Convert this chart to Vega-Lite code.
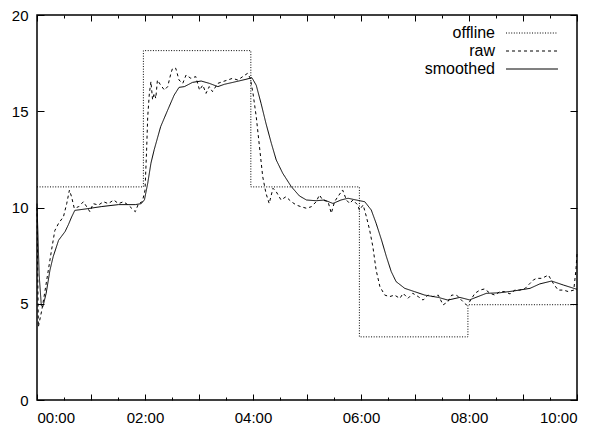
{
  "$schema": "https://vega.github.io/schema/vega-lite/v6.json",
  "width": 540,
  "height": 385,
  "autosize": {"type": "none"},
  "padding": {"left": 37, "top": 15, "right": 23, "bottom": 25},
  "background": "white",
  "config": {
    "view": {"stroke": "black", "strokeWidth": 1.5},
    "axis": {"grid": false, "domain": false, "labelFont": "Liberation Sans", "labelFontSize": 15, "labelColor": "black", "tickColor": "black", "tickWidth": 1, "title": null},
    "legend": {"labelFont": "Liberation Sans", "labelFontSize": 16, "labelColor": "black"}
  },
  "datasets": {
    "offline": [
      {"s": "offline", "t": 0, "v": 11.07},
      {"s": "offline", "t": 1.97, "v": 18.15},
      {"s": "offline", "t": 3.96, "v": 11.07},
      {"s": "offline", "t": 5.97, "v": 3.28},
      {"s": "offline", "t": 7.98, "v": 4.95},
      {"s": "offline", "t": 10, "v": 4.95}
    ],
    "raw": [
      {"s":"raw","t":0,"v":10.0},{"s":"raw","t":0.025,"v":3.8},{"s":"raw","t":0.09,"v":4.68},{"s":"raw","t":0.15,"v":5.7},{"s":"raw","t":0.21,"v":6.75},{"s":"raw","t":0.27,"v":7.8},{"s":"raw","t":0.33,"v":8.8},{"s":"raw","t":0.40,"v":9.18},{"s":"raw","t":0.49,"v":9.52},{"s":"raw","t":0.55,"v":10.2},{"s":"raw","t":0.60,"v":10.9},{"s":"raw","t":0.64,"v":10.56},{"s":"raw","t":0.69,"v":9.96},{"s":"raw","t":0.77,"v":10.04},{"s":"raw","t":0.86,"v":10.3},{"s":"raw","t":0.92,"v":10.04},{"s":"raw","t":0.98,"v":9.78},{"s":"raw","t":1.04,"v":10.2},{"s":"raw","t":1.14,"v":10.13},{"s":"raw","t":1.23,"v":10.3},{"s":"raw","t":1.32,"v":10.2},{"s":"raw","t":1.42,"v":10.39},{"s":"raw","t":1.51,"v":10.2},{"s":"raw","t":1.60,"v":10.3},{"s":"raw","t":1.69,"v":10.13},{"s":"raw","t":1.82,"v":9.78},{"s":"raw","t":1.88,"v":10.2},{"s":"raw","t":1.95,"v":10.3},{"s":"raw","t":2.0,"v":10.9},{"s":"raw","t":2.03,"v":12.99},{"s":"raw","t":2.05,"v":14.7},{"s":"raw","t":2.08,"v":15.9},{"s":"raw","t":2.11,"v":16.54},{"s":"raw","t":2.14,"v":15.6},{"s":"raw","t":2.17,"v":15.93},{"s":"raw","t":2.20,"v":15.67},{"s":"raw","t":2.23,"v":16.62},{"s":"raw","t":2.29,"v":16.36},{"s":"raw","t":2.36,"v":16.1},{"s":"raw","t":2.42,"v":16.28},{"s":"raw","t":2.48,"v":16.97},{"s":"raw","t":2.51,"v":17.23},{"s":"raw","t":2.57,"v":17.23},{"s":"raw","t":2.63,"v":16.62},{"s":"raw","t":2.70,"v":16.45},{"s":"raw","t":2.76,"v":16.88},{"s":"raw","t":2.85,"v":16.71},{"s":"raw","t":2.94,"v":16.8},{"s":"raw","t":3.01,"v":16.1},{"s":"raw","t":3.07,"v":16.36},{"s":"raw","t":3.13,"v":15.93},{"s":"raw","t":3.19,"v":16.28},{"s":"raw","t":3.25,"v":16.02},{"s":"raw","t":3.35,"v":16.45},{"s":"raw","t":3.44,"v":16.54},{"s":"raw","t":3.53,"v":16.62},{"s":"raw","t":3.62,"v":16.71},{"s":"raw","t":3.72,"v":16.62},{"s":"raw","t":3.81,"v":16.8},{"s":"raw","t":3.90,"v":16.97},{"s":"raw","t":3.95,"v":16.71},{"s":"raw","t":4.0,"v":15.93},{"s":"raw","t":4.06,"v":14.72},{"s":"raw","t":4.12,"v":13.16},{"s":"raw","t":4.18,"v":11.6},{"s":"raw","t":4.24,"v":10.74},{"s":"raw","t":4.30,"v":10.21},{"s":"raw","t":4.37,"v":11.0},{"s":"raw","t":4.43,"v":10.82},{"s":"raw","t":4.52,"v":10.39},{"s":"raw","t":4.61,"v":10.56},{"s":"raw","t":4.71,"v":10.3},{"s":"raw","t":4.80,"v":10.13},{"s":"raw","t":4.89,"v":10.04},{"s":"raw","t":4.99,"v":9.96},{"s":"raw","t":5.08,"v":10.04},{"s":"raw","t":5.17,"v":10.3},{"s":"raw","t":5.23,"v":10.65},{"s":"raw","t":5.29,"v":10.39},{"s":"raw","t":5.39,"v":10.3},{"s":"raw","t":5.45,"v":9.7},{"s":"raw","t":5.51,"v":10.3},{"s":"raw","t":5.57,"v":10.56},{"s":"raw","t":5.66,"v":10.91},{"s":"raw","t":5.73,"v":10.39},{"s":"raw","t":5.79,"v":10.21},{"s":"raw","t":5.85,"v":10.39},{"s":"raw","t":5.94,"v":10.13},{"s":"raw","t":5.97,"v":9.87},{"s":"raw","t":6.04,"v":10.13},{"s":"raw","t":6.10,"v":9.52},{"s":"raw","t":6.16,"v":8.83},{"s":"raw","t":6.22,"v":7.96},{"s":"raw","t":6.28,"v":6.75},{"s":"raw","t":6.35,"v":5.89},{"s":"raw","t":6.44,"v":5.45},{"s":"raw","t":6.53,"v":5.37},{"s":"raw","t":6.62,"v":5.45},{"s":"raw","t":6.72,"v":5.28},{"s":"raw","t":6.78,"v":5.54},{"s":"raw","t":6.87,"v":5.28},{"s":"raw","t":6.96,"v":5.54},{"s":"raw","t":7.06,"v":5.37},{"s":"raw","t":7.15,"v":5.19},{"s":"raw","t":7.24,"v":5.45},{"s":"raw","t":7.33,"v":5.37},{"s":"raw","t":7.43,"v":5.45},{"s":"raw","t":7.52,"v":4.94},{"s":"raw","t":7.61,"v":5.11},{"s":"raw","t":7.68,"v":5.45},{"s":"raw","t":7.77,"v":5.45},{"s":"raw","t":7.86,"v":5.19},{"s":"raw","t":7.95,"v":4.94},{"s":"raw","t":8.01,"v":5.1},{"s":"raw","t":8.05,"v":5.28},{"s":"raw","t":8.11,"v":5.54},{"s":"raw","t":8.20,"v":5.71},{"s":"raw","t":8.29,"v":5.77},{"s":"raw","t":8.39,"v":5.54},{"s":"raw","t":8.48,"v":5.45},{"s":"raw","t":8.57,"v":5.63},{"s":"raw","t":8.66,"v":5.63},{"s":"raw","t":8.76,"v":5.51},{"s":"raw","t":8.85,"v":5.71},{"s":"raw","t":8.94,"v":5.71},{"s":"raw","t":9.04,"v":5.8},{"s":"raw","t":9.13,"v":6.06},{"s":"raw","t":9.19,"v":6.23},{"s":"raw","t":9.25,"v":6.32},{"s":"raw","t":9.35,"v":6.32},{"s":"raw","t":9.47,"v":6.49},{"s":"raw","t":9.56,"v":6.06},{"s":"raw","t":9.65,"v":5.71},{"s":"raw","t":9.75,"v":5.71},{"s":"raw","t":9.84,"v":5.63},{"s":"raw","t":9.94,"v":5.71},{"s":"raw","t":9.98,"v":6.75},{"s":"raw","t":10.0,"v":7.6}
    ],
    "smoothed": [
      {"s":"smoothed","t":0,"v":10.2},{"s":"smoothed","t":0.04,"v":6.5},{"s":"smoothed","t":0.08,"v":4.9},{"s":"smoothed","t":0.11,"v":4.85},{"s":"smoothed","t":0.17,"v":5.55},{"s":"smoothed","t":0.24,"v":6.75},{"s":"smoothed","t":0.30,"v":7.45},{"s":"smoothed","t":0.40,"v":8.3},{"s":"smoothed","t":0.52,"v":8.75},{"s":"smoothed","t":0.58,"v":9.1},{"s":"smoothed","t":0.64,"v":9.5},{"s":"smoothed","t":0.70,"v":9.85},{"s":"smoothed","t":0.89,"v":9.92},{"s":"smoothed","t":1.20,"v":10.05},{"s":"smoothed","t":1.51,"v":10.15},{"s":"smoothed","t":1.82,"v":10.15},{"s":"smoothed","t":1.93,"v":10.2},{"s":"smoothed","t":1.99,"v":10.4},{"s":"smoothed","t":2.05,"v":11.25},{"s":"smoothed","t":2.11,"v":12.3},{"s":"smoothed","t":2.17,"v":13.0},{"s":"smoothed","t":2.29,"v":14.2},{"s":"smoothed","t":2.42,"v":15.06},{"s":"smoothed","t":2.54,"v":15.84},{"s":"smoothed","t":2.63,"v":16.24},{"s":"smoothed","t":2.73,"v":16.28},{"s":"smoothed","t":2.88,"v":16.5},{"s":"smoothed","t":3.04,"v":16.57},{"s":"smoothed","t":3.19,"v":16.45},{"s":"smoothed","t":3.35,"v":16.28},{"s":"smoothed","t":3.47,"v":16.4},{"s":"smoothed","t":3.69,"v":16.54},{"s":"smoothed","t":3.87,"v":16.66},{"s":"smoothed","t":3.98,"v":16.74},{"s":"smoothed","t":4.06,"v":16.35},{"s":"smoothed","t":4.15,"v":15.4},{"s":"smoothed","t":4.24,"v":14.37},{"s":"smoothed","t":4.34,"v":13.33},{"s":"smoothed","t":4.43,"v":12.47},{"s":"smoothed","t":4.55,"v":11.78},{"s":"smoothed","t":4.71,"v":11.08},{"s":"smoothed","t":4.86,"v":10.6},{"s":"smoothed","t":4.99,"v":10.39},{"s":"smoothed","t":5.17,"v":10.35},{"s":"smoothed","t":5.32,"v":10.39},{"s":"smoothed","t":5.48,"v":10.21},{"s":"smoothed","t":5.63,"v":10.39},{"s":"smoothed","t":5.76,"v":10.48},{"s":"smoothed","t":5.91,"v":10.39},{"s":"smoothed","t":6.07,"v":10.3},{"s":"smoothed","t":6.19,"v":9.87},{"s":"smoothed","t":6.28,"v":9.18},{"s":"smoothed","t":6.38,"v":8.31},{"s":"smoothed","t":6.47,"v":7.45},{"s":"smoothed","t":6.56,"v":6.67},{"s":"smoothed","t":6.65,"v":6.15},{"s":"smoothed","t":6.81,"v":5.8},{"s":"smoothed","t":6.99,"v":5.63},{"s":"smoothed","t":7.18,"v":5.45},{"s":"smoothed","t":7.43,"v":5.33},{"s":"smoothed","t":7.61,"v":5.19},{"s":"smoothed","t":7.83,"v":5.33},{"s":"smoothed","t":8.01,"v":5.2},{"s":"smoothed","t":8.32,"v":5.54},{"s":"smoothed","t":8.57,"v":5.57},{"s":"smoothed","t":8.82,"v":5.66},{"s":"smoothed","t":9.13,"v":5.8},{"s":"smoothed","t":9.31,"v":6.03},{"s":"smoothed","t":9.53,"v":6.18},{"s":"smoothed","t":9.75,"v":5.97},{"s":"smoothed","t":10.0,"v":5.75}
    ]
  },
  "encoding": {
    "x": {"field": "t", "type": "quantitative", "scale": {"domain": [0, 10], "nice": false, "zero": false}},
    "y": {"field": "v", "type": "quantitative", "scale": {"domain": [0, 20], "nice": false}}
  },
  "layer": [
    {
      "data": {"name": "offline"},
      "mark": {"type": "line", "interpolate": "step-after", "color": "black", "strokeWidth": 1},
      "encoding": {
        "x": {"field": "t", "type": "quantitative", "axis": {"orient": "bottom", "values": [0,1,2,3,4,5,6,7,8,9,10], "tickSize": -6, "labelPadding": 16, "labelExpr": "(datum.value < 10 ? '0' : '') + datum.value + ':00'"}},
        "y": {"field": "v", "type": "quantitative", "axis": {"orient": "left", "values": [0,5,10,15,20], "tickSize": -7, "labelPadding": 16}},
        "strokeDash": {
          "field": "s", "type": "nominal",
          "scale": {"domain": ["offline", "raw", "smoothed"], "range": [[1, 1.6], [3, 3], [1, 0]]},
          "legend": {"orient": "none", "legendX": 487, "legendY": 10, "title": null, "symbolType": "M-5,0H5", "symbolSize": 108, "symbolStrokeWidth": 1, "symbolStrokeColor": "black", "symbolFillColor": "transparent", "symbolOpacity": 1, "rowPadding": 2, "padding": 0, "labelAlign": "right", "labelOffset": -45}
        }
      }
    },
    {
      "data": {"name": "raw"},
      "mark": {"type": "line", "color": "black", "strokeWidth": 1},
      "encoding": {
        "x": {"field": "t", "type": "quantitative", "axis": {"orient": "bottom", "values": [0.5,1.5,2.5,3.5,4.5,5.5,6.5,7.5,8.5,9.5], "tickSize": -3, "labels": false}},
        "y": {"field": "v", "type": "quantitative", "axis": {"orient": "right", "values": [0,5,10,15,20], "tickSize": -7, "labels": false}},
        "strokeDash": {"field": "s", "type": "nominal"}
      }
    },
    {
      "data": {"name": "smoothed"},
      "mark": {"type": "line", "color": "black", "strokeWidth": 1},
      "encoding": {
        "x": {"field": "t", "type": "quantitative", "axis": {"orient": "top", "values": [0,1,2,3,4,5,6,7,8,9,10], "tickSize": -6, "labels": false}},
        "y": {"field": "v", "type": "quantitative", "axis": null},
        "strokeDash": {"field": "s", "type": "nominal"}
      }
    },
    {
      "data": {"name": "offline"},
      "mark": {"type": "line", "interpolate": "step-after", "color": "black", "strokeWidth": 1, "opacity": 0},
      "encoding": {
        "x": {"field": "t", "type": "quantitative", "axis": {"orient": "top", "values": [0.5,1.5,2.5,3.5,4.5,5.5,6.5,7.5,8.5,9.5], "tickSize": -3, "labels": false}},
        "y": {"field": "v", "type": "quantitative", "axis": null}
      }
    }
  ],
  "resolve": {"axis": {"x": "independent", "y": "independent"}}
}
